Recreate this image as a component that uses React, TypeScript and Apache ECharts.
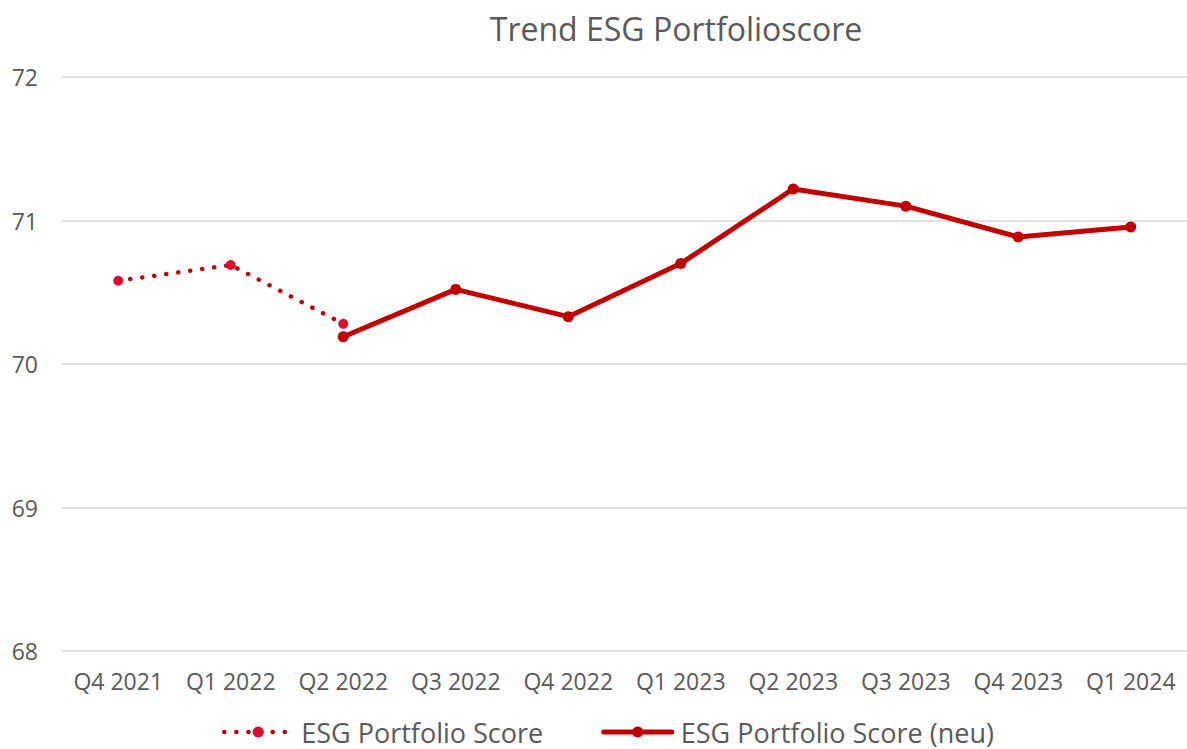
import React, { useEffect, useRef } from "react";
import * as echarts from "echarts";

const categories = ["Q4 2021", "Q1 2022", "Q2 2022", "Q3 2022", "Q4 2022", "Q1 2023", "Q2 2023", "Q3 2023", "Q4 2023", "Q1 2024"];
const scoreOld = [70.58, 70.69, 70.28, null, null, null, null, null, null, null];
const scoreNew = [null, null, 70.19, 70.52, 70.33, 70.70, 71.22, 71.10, 70.885, 70.955];
const yTicks = { min: 68, max: 72, interval: 1 };

const FONT = "'Open Sans', 'Noto Sans', sans-serif";
const GREY = "#595959";
const DARK_RED = "#c00000";
const BRIGHT_RED = "#d80f2e";

export default function App() {
  const ref = useRef<HTMLDivElement>(null);
  useEffect(() => {
    if (!ref.current) return;
    const chart = echarts.init(ref.current, undefined, { renderer: "svg" });
    chart.setOption({
      animation: false,
      backgroundColor: "#ffffff",
      textStyle: { fontFamily: FONT },
      title: {
        text: "Trend ESG Portfolioscore",
        left: 676,
        top: 10,
        padding: 0,
        textAlign: "center",
        textStyle: { fontFamily: FONT, fontSize: 32, lineHeight: 36, fontWeight: "normal", color: GREY },
      },
      legend: {
        left: 222,
        top: 716,
        padding: 0,
        itemWidth: 68,
        itemHeight: 14,
        itemGap: 58,
        textStyle: { fontFamily: FONT, fontSize: 27, lineHeight: 32, color: GREY, padding: [0, 0, 0, 4] },
        data: [
          {
            name: "ESG Portfolio Score",
            lineStyle: { color: DARK_RED, width: 4.5, type: [0.1, 12], cap: "round" },
            itemStyle: { color: BRIGHT_RED },
          },
          {
            name: "ESG Portfolio Score (neu)",
            lineStyle: { color: DARK_RED, width: 5, type: "solid", cap: "round" },
            itemStyle: { color: DARK_RED },
          },
        ],
      },
      grid: { left: 62, top: 77, width: 1130, height: 574 },
      xAxis: {
        type: "category",
        data: categories,
        boundaryGap: true,
        axisLine: { show: false },
        axisTick: { show: false },
        axisLabel: { fontFamily: FONT, fontSize: 23, color: GREY, margin: 18, interval: 0 },
      },
      yAxis: {
        type: "value",
        min: yTicks.min,
        max: yTicks.max,
        interval: yTicks.interval,
        axisLine: { show: false },
        axisTick: { show: false },
        axisLabel: { fontFamily: FONT, fontSize: 23, color: GREY, margin: 24 },
        splitLine: { lineStyle: { color: "#d9d9d9", width: 1.5 } },
      },
      series: [
        {
          name: "ESG Portfolio Score",
          type: "line",
          data: scoreOld,
          symbol: "circle",
          symbolSize: 10,
          showSymbol: true,
          connectNulls: false,
          itemStyle: { color: BRIGHT_RED },
          lineStyle: { color: DARK_RED, width: 4.5, type: [0.1, 12], cap: "round" },
          z: 3,
        },
        {
          name: "ESG Portfolio Score (neu)",
          type: "line",
          data: scoreNew,
          symbol: "circle",
          symbolSize: 11,
          showSymbol: true,
          connectNulls: false,
          itemStyle: { color: DARK_RED },
          lineStyle: { color: DARK_RED, width: 5 },
          z: 2,
        },
      ],
    });
    return () => chart.dispose();
  }, []);
  return <div ref={ref} style={{ position: "fixed", left: 0, top: 0, width: 1187, height: 749 }} />;
}
